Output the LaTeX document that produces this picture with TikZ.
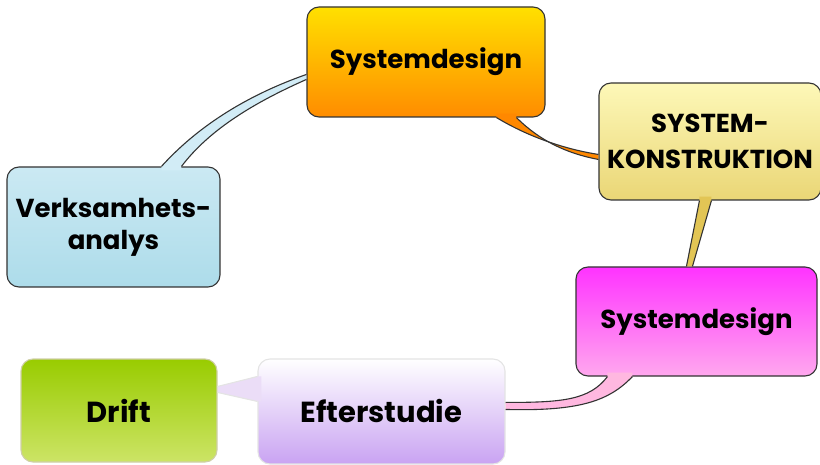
\documentclass[tikz,border=0pt]{standalone}
\usepackage{fontspec}
\setmainfont{Poppins}
\usetikzlibrary{calc}
\definecolor{sdTop}{HTML}{FFE000}
\definecolor{sdBot}{HTML}{FF8C00}
\definecolor{skTop}{HTML}{FDF8B8}
\definecolor{skBot}{HTML}{EAD676}
\definecolor{vaTop}{HTML}{CBE9F3}
\definecolor{vaBot}{HTML}{ADDCEA}
\definecolor{mgTop}{HTML}{FF33FF}
\definecolor{mgBot}{HTML}{FFA8EE}
\definecolor{drTop}{HTML}{99CC00}
\definecolor{drBot}{HTML}{CCE466}
\definecolor{esTop}{HTML}{FFFFFF}
\definecolor{esBot}{HTML}{C9A3F2}
\definecolor{tBlue}{HTML}{D2ECF6}
\definecolor{tOrange}{HTML}{FF8800}
\definecolor{tYellow}{HTML}{E2C555}
\definecolor{tPink}{HTML}{FFB8E0}
\definecolor{tLav}{HTML}{EBDDF7}
\definecolor{edgeDark}{HTML}{333333}
\definecolor{edgeKhaki}{HTML}{CFCFA8}
\definecolor{edgeLight}{HTML}{E4E4E4}
\begin{document}
\begin{tikzpicture}[x=1pt,y=-1pt,
  bubble/.style={draw=edgeDark, line width=1.1pt, rounded corners=12pt, inner sep=0pt,
    align=center, font=\fontsize{26}{32}\selectfont\bfseries},
  tailedge/.style={draw=edgeDark, line width=1.1pt},
  lightedge/.style={draw=edgeLight, line width=1.1pt}]
\useasboundingbox (0,0) rectangle (820,465);

% boxes
\node[bubble, minimum width=238pt, minimum height=110pt, top color=sdTop, bottom color=sdBot]
  (sd1) at (426,62) {Systemdesign};
\node[bubble, minimum width=222pt, minimum height=117pt, top color=skTop, bottom color=skBot,
  font=\fontsize{26}{36}\selectfont\bfseries]
  (sk) at (710,141.5) {SYSTEM-\\KONSTRUKTION};
\node[bubble, minimum width=213pt, minimum height=120pt, top color=vaTop, bottom color=vaBot]
  (va) at (113.5,227) {Verksamhets-\\analys};
\node[bubble, minimum width=241pt, minimum height=109pt, top color=mgTop, bottom color=mgBot]
  (sd2) at (696.5,321.5) {Systemdesign};
\node[bubble, draw=edgeKhaki, minimum width=196pt, minimum height=103pt, top color=drTop, bottom color=drBot,
  font=\fontsize{29}{32}\selectfont\bfseries]
  (dr) at (119,410.5) {Drift};
\node[bubble, draw=edgeLight, minimum width=247pt, minimum height=105pt, top color=esTop, bottom color=esBot,
  font=\fontsize{29}{32}\selectfont\bfseries]
  (es) at (381.5,411.5) {Efterstudie};

% tail: Verksamhetsanalys -> Systemdesign (orange)
\fill[tBlue] ($(va.north west)+(155,4)$) -- ($(va.north west)+(155,0)$)
  .. controls +(38,-42) and +(-57,20) .. ($(sd1.north west)+(0,68)$)
  -- ($(sd1.north west)+(0,73)$)
  .. controls +(-52,23) and +(28,-37) .. ($(va.north west)+(175,0)$)
  -- ($(va.north west)+(175,4)$) -- cycle;
\draw[tailedge] ($(va.north west)+(155,0)$)
  .. controls +(38,-42) and +(-57,20) .. ($(sd1.north west)+(0,68)$);
\draw[tailedge] ($(sd1.north west)+(0,73)$)
  .. controls +(-52,23) and +(28,-37) .. ($(va.north west)+(175,0)$);

% tail: Systemdesign (orange) -> Systemkonstruktion
\fill[tOrange] ($(sd1.south west)+(190,-4)$) -- ($(sd1.south west)+(190,0)$)
  .. controls +(33,20) and +(-32,-5) .. ($(sk.north west)+(0,72)$)
  -- ($(sk.north west)+(0,77)$)
  .. controls +(-32,-6) and +(23,23) .. ($(sd1.south west)+(210,0)$)
  -- ($(sd1.south west)+(210,-4)$) -- cycle;
\draw[tailedge] ($(sd1.south west)+(190,0)$)
  .. controls +(33,20) and +(-32,-5) .. ($(sk.north west)+(0,72)$);
\draw[tailedge] ($(sk.north west)+(0,77)$)
  .. controls +(-32,-6) and +(23,23) .. ($(sd1.south west)+(210,0)$);

% tail: Systemkonstruktion -> Systemdesign (magenta)
\fill[tYellow] ($(sk.south west)+(101,-4)$) -- ($(sk.south west)+(101,0)$)
  -- ($(sd2.north west)+(111,0)$) -- ($(sd2.north west)+(117,0)$)
  -- ($(sk.south west)+(113,0)$) -- ($(sk.south west)+(113,-4)$) -- cycle;
\draw[tailedge] ($(sk.south west)+(101,0)$) -- ($(sd2.north west)+(111,0)$);
\draw[tailedge] ($(sd2.north west)+(117,0)$) -- ($(sk.south west)+(113,0)$);

% tail: Systemdesign (magenta) -> Efterstudie
\fill[tPink] ($(sd2.south west)+(32,-4)$) -- ($(sd2.south west)+(32,0)$)
  .. controls +(-18,24) and +(55,0) .. ($(es.north east)+(0,44)$)
  -- ($(es.north east)+(0,51)$)
  .. controls +(75,2) and +(-23,24) .. ($(sd2.south west)+(57,0)$)
  -- ($(sd2.south west)+(57,-4)$) -- cycle;
\draw[tailedge] ($(sd2.south west)+(32,0)$)
  .. controls +(-18,24) and +(55,0) .. ($(es.north east)+(0,44)$);
\draw[tailedge] ($(es.north east)+(0,51)$)
  .. controls +(75,2) and +(-23,24) .. ($(sd2.south west)+(57,0)$);

% tail: Efterstudie -> Drift
\fill[tLav] ($(es.north west)+(4,18)$) -- ($(es.north west)+(0,18)$)
  -- ($(dr.north east)+(0,28)$) -- ($(dr.north east)+(0,34)$)
  -- ($(es.north west)+(0,43)$) -- ($(es.north west)+(4,43)$) -- cycle;
\draw[lightedge] ($(es.north west)+(0,18)$) -- ($(dr.north east)+(0,28)$);
\draw[lightedge] ($(dr.north east)+(0,34)$) -- ($(es.north west)+(0,43)$);
\end{tikzpicture}
\end{document}
